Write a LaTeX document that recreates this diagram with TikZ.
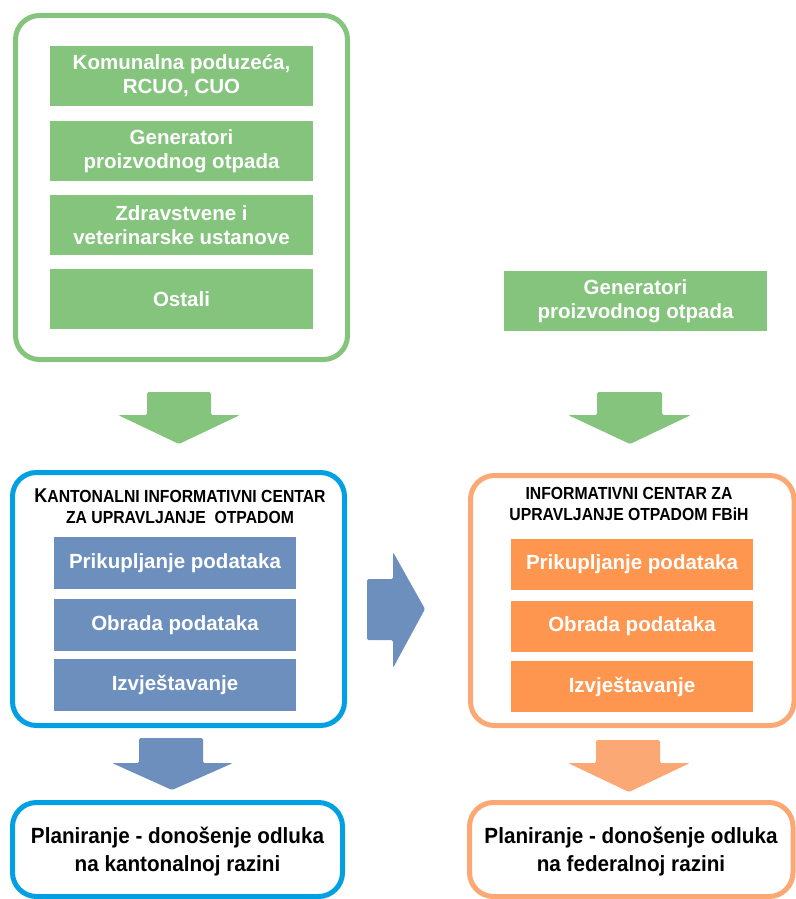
\documentclass[tikz,border=0pt]{standalone}
\usepackage{fontspec}
\setmainfont{Liberation Sans}
\newfontfamily\narrowfont[FakeStretch=0.9]{Liberation Sans}
\newfontfamily\semifont[FakeStretch=0.94]{Liberation Sans}
\definecolor{gfill}{RGB}{133,196,125}
\definecolor{bfill}{RGB}{109,143,189}
\definecolor{bline}{RGB}{0,160,227}
\definecolor{ofill}{RGB}{255,150,80}
\definecolor{oline}{RGB}{251,168,116}
\begin{document}
\begin{tikzpicture}[x=1pt,y=-1pt,
  outerbox/.style={draw,line width=5pt,rounded corners=24pt,fill=white,inner sep=0pt},
  inbox/.style={minimum width=#1,inner sep=0pt,text=white,font=\bfseries\fontsize{20.5}{24}\selectfont,align=center},
  titletext/.style={font=\narrowfont\bfseries\fontsize{17.5}{21}\selectfont,align=center,inner sep=0pt},
  bottomtext/.style={font=\semifont\bfseries\fontsize{22}{28}\selectfont,align=center,inner sep=0pt},
  blockarrow/.style={draw=none,rounded corners=1.5pt}]
\useasboundingbox (0,0) rectangle (795,899);

% ---- top left green group
\node[outerbox,draw=gfill,minimum width=332pt,minimum height=344pt] (gouter) at (181.5,187.5) {};
\node[inbox=263pt,fill=gfill,minimum height=60pt] (g1) at (181.5,76) {Komunalna poduzeća,\\RCUO, CUO};
\node[inbox=263pt,fill=gfill,minimum height=60pt] (g2) at (181.5,151) {Generatori\\proizvodnog otpada};
\node[inbox=263pt,fill=gfill,minimum height=60pt] (g3) at (181.5,225) {Zdravstvene i\\veterinarske ustanove};
\node[inbox=263pt,fill=gfill,minimum height=60pt] (g4) at (181.5,299) {Ostali};

% ---- top right green
\node[inbox=263pt,fill=gfill,minimum height=60pt] (gr) at (635.5,301) {Generatori\\proizvodnog otpada};

% ---- green arrows
\fill[gfill,blockarrow] (147,392) -- (211,392) -- (211,415) -- (240,415) -- (179,444) -- (118,415) -- (147,415) -- cycle;
\fill[gfill,blockarrow] (597,392) -- (662,392) -- (662,415) -- (691,415) -- (630,444) -- (568,415) -- (597,415) -- cycle;

% ---- blue cantonal centre
\node[outerbox,draw=bline,minimum width=332pt,minimum height=253pt] (bouter) at (178.5,599) {};
\node[titletext] (btitle) at (180,506.5) {{\fontsize{20}{21}\selectfont K}ANTONALNI INFORMATIVNI CENTAR\\ZA UPRAVLJANJE\ \ OTPADOM};
\node[inbox=242pt,fill=bfill,minimum height=52pt] (b1) at (175,563) {Prikupljanje podataka};
\node[inbox=242pt,fill=bfill,minimum height=52pt] (b2) at (175,625) {Obrada podataka};
\node[inbox=242pt,fill=bfill,minimum height=52pt] (b3) at (175,685) {Izvještavanje};

% ---- orange federal centre
\node[outerbox,draw=oline,minimum width=323.5pt,minimum height=250pt] (oouter) at (632.25,600.5) {};
\node[titletext] (otitle) at (629,503.5) {INFORMATIVNI CENTAR ZA\\UPRAVLJANJE OTPADOM FBiH};
\node[inbox=242pt,fill=ofill,minimum height=51pt] (o1) at (632,564.5) {Prikupljanje podataka};
\node[inbox=242pt,fill=ofill,minimum height=51pt] (o2) at (632,626.5) {Obrada podataka};
\node[inbox=242pt,fill=ofill,minimum height=51pt] (o3) at (632,686.5) {Izvještavanje};

% ---- blue right arrow
\fill[bfill,blockarrow] (367,579) -- (393,579) -- (393,552) -- (425,609) -- (393,668) -- (393,640) -- (367,640) -- cycle;

% ---- down arrows
\fill[bfill,blockarrow] (139,738) -- (203,738) -- (203,763) -- (233,763) -- (172,790) -- (112,763) -- (139,763) -- cycle;
\fill[oline,blockarrow] (596,740) -- (660,740) -- (660,763) -- (690,763) -- (629,792) -- (568,763) -- (596,763) -- cycle;

% ---- bottom boxes
\node[outerbox,draw=bline,minimum width=330pt,minimum height=94pt] (bbot) at (177.5,849.5) {};
\node[bottomtext] (bbtext) at (177.5,852) {Planiranje - donošenje odluka\\na kantonalnoj razini};
\node[outerbox,draw=oline,minimum width=323.5pt,minimum height=94pt] (obot) at (631.25,849.5) {};
\node[bottomtext] (obtext) at (631,852) {Planiranje - donošenje odluka\\na federalnoj razini};
\end{tikzpicture}
\end{document}
